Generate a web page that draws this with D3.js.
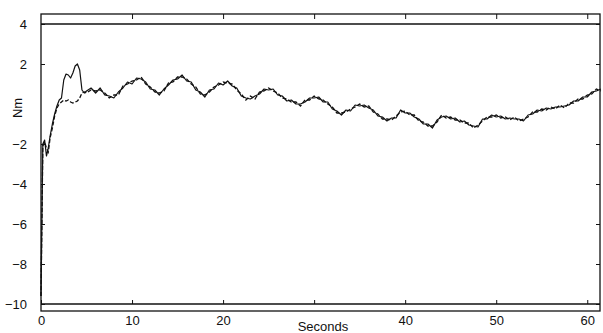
<!DOCTYPE html>
<html>

<head>
  <title>Torque vs time</title>
  <script src="https://cdn.jsdelivr.net/npm/d3@7"></script>
  <style>
    body { margin: 0; background: #fff; }
    text { font-family: "Liberation Sans", Arial, sans-serif; fill: #111; }
  </style>
</head>

<body>
  <svg width="603" height="333" id="chart"></svg>
  <script>
    // sample times (seconds), finer at the start where the traces climb
    const seconds = [
      0, 0.2, 0.4, 0.6, 0.8, 1.0, 1.25, 1.5, 1.75, 2.0, 2.25, 2.5, 2.75, 3.0, 3.25, 3.5, 3.75, 4.0, 4.25, 4.5, 4.75, 5.0,
      5.5, 6.0, 6.5, 7.0, 7.5, 8.0, 8.5, 9.0, 9.5, 10.0,
      10.5, 11.0, 11.5, 12.0, 12.5, 13.0, 13.5, 14.0, 14.5, 15.0,
      15.5, 16.0, 16.5, 17.0, 17.5, 18.0, 18.5, 19.0, 19.5, 20.0,
      20.5, 21.0, 21.5, 22.0, 22.5, 23.0, 23.5, 24.0, 24.5, 25.0,
      25.5, 26.0, 26.5, 27.0, 27.5, 28.0, 28.5, 29.0, 29.5, 30.0,
      30.5, 31.0, 31.5, 32.0, 32.5, 33.0, 33.5, 34.0, 34.5, 35.0,
      35.5, 36.0, 36.5, 37.0, 37.5, 38.0, 38.5, 39.0, 39.5, 40.0,
      40.5, 41.0, 41.5, 42.0, 42.5, 43.0, 43.5, 44.0, 44.5, 45.0,
      45.5, 46.0, 46.5, 47.0, 47.5, 48.0, 48.5, 49.0, 49.5, 50.0,
      50.5, 51.0, 51.5, 52.0, 52.5, 53.0, 53.5, 54.0, 54.5, 55.0,
      55.5, 56.0, 56.5, 57.0, 57.5, 58.0, 58.5, 59.0, 59.5, 60.0,
      60.5, 61.0, 61.5
    ];

    // solid trace (Nm)
    const solidNm = [
      -9.6, -2.0, -1.8, -2.6, -2.2, -1.6, -1.0, -0.5, -0.1, 0.2, 0.3, 1.2, 1.5, 1.45, 1.3, 1.55, 1.9, 2.0, 1.7, 0.7, 0.55, 0.65,
      0.8, 0.55, 0.8, 0.45, 0.4, 0.3, 0.6, 0.8, 1.1, 1.0,
      1.3, 1.25, 1.1, 0.75, 0.7, 0.45, 0.75, 0.95, 1.2, 1.25,
      1.45, 1.15, 1.1, 0.7, 0.6, 0.35, 0.7, 0.75, 1.05, 0.95,
      1.15, 0.9, 0.8, 0.4, 0.3, 0.25, 0.4, 0.5, 0.75, 0.7,
      0.75, 0.45, 0.4, 0.15, 0.2, 0.0, 0.0, 0.1, 0.3, 0.3,
      0.35, 0.1, 0.1, -0.25, -0.35, -0.55, -0.3, -0.35, -0.05, -0.1,
      -0.05, -0.2, -0.3, -0.6, -0.65, -0.85, -0.7, -0.7, -0.3, -0.45,
      -0.45, -0.65, -0.75, -1.0, -1.0, -1.2, -0.8, -0.65, -0.6, -0.75,
      -0.7, -0.9, -0.85, -1.05, -1.1, -1.15, -0.75, -0.75, -0.55, -0.65,
      -0.6, -0.75, -0.7, -0.75, -0.75, -0.85, -0.55, -0.5, -0.3, -0.35,
      -0.2, -0.25, -0.15, -0.15, -0.1, -0.05, 0.15, 0.15, 0.35, 0.35,
      0.6, 0.65, 0.75
    ];

    // dashed trace (Nm)
    const dashedNm = [
      -9.6, -2.1, -1.9, -2.2, -2.4, -1.7, -1.2, -0.6, -0.2, 0.0, 0.1, 0.2, 0.15, 0.2, 0.1, 0.05, 0.1, 0.15, 0.3, 0.55, 0.6, 0.55,
      0.7, 0.65, 0.7, 0.55, 0.3, 0.45, 0.45, 0.9, 1.0, 1.15,
      1.2, 1.35, 1.0, 0.85, 0.6, 0.55, 0.65, 1.05, 1.1, 1.35,
      1.35, 1.25, 1.0, 0.85, 0.5, 0.45, 0.6, 0.85, 0.95, 1.1,
      1.05, 1.0, 0.7, 0.5, 0.2, 0.4, 0.25, 0.6, 0.65, 0.8,
      0.65, 0.55, 0.3, 0.25, 0.1, 0.1, -0.1, 0.2, 0.2, 0.4,
      0.25, 0.2, 0.0, -0.15, -0.45, -0.45, -0.4, -0.25, -0.15, 0.0,
      -0.15, -0.1, -0.4, -0.5, -0.75, -0.75, -0.8, -0.6, -0.4, -0.35,
      -0.55, -0.55, -0.85, -0.9, -1.1, -1.1, -0.9, -0.55, -0.7, -0.65,
      -0.8, -0.8, -0.95, -0.95, -1.2, -1.05, -0.85, -0.65, -0.65, -0.55,
      -0.7, -0.65, -0.8, -0.65, -0.85, -0.75, -0.65, -0.4, -0.4, -0.25,
      -0.3, -0.15, -0.25, -0.05, -0.2, 0.05, 0.05, 0.25, 0.25, 0.45,
      0.5, 0.75, 0.65
    ];

    const xTicks = [0, 10, 20, 30, 40, 50, 60];
    const xTickLabels = ['0', '10', '20', '', '40', '50', '60'];
    const yTicks = [4, 2, -2, -4, -6, -8, -10];
    const refLines = [4, -10];

    const svg = d3.select('#chart');
    const plotLeft = 41, plotRight = 600, plotTop = 14, plotBottom = 311;

    const xScale = d3.scaleLinear().domain([0, 61.4]).range([plotLeft, plotRight]);
    const yScale = d3.scaleLinear().domain([-10.35, 4.5]).range([plotBottom, plotTop]);

    // frame
    svg.append('rect')
      .attr('x', plotLeft).attr('y', plotTop)
      .attr('width', plotRight - plotLeft).attr('height', plotBottom - plotTop)
      .attr('fill', 'none').attr('stroke', '#111').attr('stroke-width', 1.3);

    // horizontal lines at 4 and -10
    svg.append('g').selectAll('line')
      .data(refLines)
      .join('line')
      .attr('x1', plotLeft).attr('x2', plotRight)
      .attr('y1', d => yScale(d)).attr('y2', d => yScale(d))
      .attr('stroke', '#111').attr('stroke-width', 1.3);

    // y axis ticks/labels on left, plain ticks on right
    const yAxis = d3.axisLeft(yScale).tickValues(yTicks).tickSize(-4).tickPadding(14)
      .tickFormat(d => d < 0 ? '\u2212' + Math.abs(d) : d);
    svg.append('g')
      .attr('transform', `translate(${plotLeft},0)`)
      .call(yAxis)
      .call(g => g.select('.domain').remove())
      .call(g => g.selectAll('text').attr('font-size', 13).attr('fill', '#111'))
      .call(g => g.selectAll('line').attr('stroke', '#111'));
    svg.append('g')
      .attr('transform', `translate(${plotRight},0)`)
      .call(d3.axisRight(yScale).tickValues(yTicks).tickSize(-4).tickFormat(''))
      .call(g => g.select('.domain').remove())
      .call(g => g.selectAll('line').attr('stroke', '#111'));

    // x axis: labels under the frame, ticks on the -10 line and on the top edge
    svg.append('g')
      .attr('transform', `translate(0,${yScale(-10)})`)
      .call(d3.axisBottom(xScale).tickValues(xTicks).tickSize(-4).tickPadding(12)
        .tickFormat((d, i) => xTickLabels[i]))
      .call(g => g.select('.domain').remove())
      .call(g => g.selectAll('text').attr('font-size', 13).attr('fill', '#111'))
      .call(g => g.selectAll('line').attr('stroke', '#111'));
    svg.append('g')
      .attr('transform', `translate(0,${plotTop})`)
      .call(d3.axisTop(xScale).tickValues(xTicks.slice(1)).tickSize(-5).tickFormat(''))
      .call(g => g.select('.domain').remove())
      .call(g => g.selectAll('line').attr('stroke', '#111'));

    // traces
    const line = d3.line()
      .x((d, i) => xScale(seconds[i]))
      .y(d => yScale(d));

    svg.append('path')
      .datum(solidNm)
      .attr('d', line)
      .attr('fill', 'none')
      .attr('stroke', '#111')
      .attr('stroke-width', 1.2)
      .attr('stroke-linejoin', 'round');

    svg.append('path')
      .datum(dashedNm)
      .attr('d', line)
      .attr('fill', 'none')
      .attr('stroke', '#111')
      .attr('stroke-width', 1.3)
      .attr('stroke-dasharray', '4,2');

    // axis titles
    svg.append('text')
      .attr('transform', 'translate(22,108) rotate(-90)')
      .attr('text-anchor', 'middle')
      .attr('font-size', 13)
      .text('Nm');

    svg.append('text')
      .attr('x', 323).attr('y', 331)
      .attr('text-anchor', 'middle')
      .attr('font-size', 13)
      .text('Seconds');
  </script>
</body>

</html>
